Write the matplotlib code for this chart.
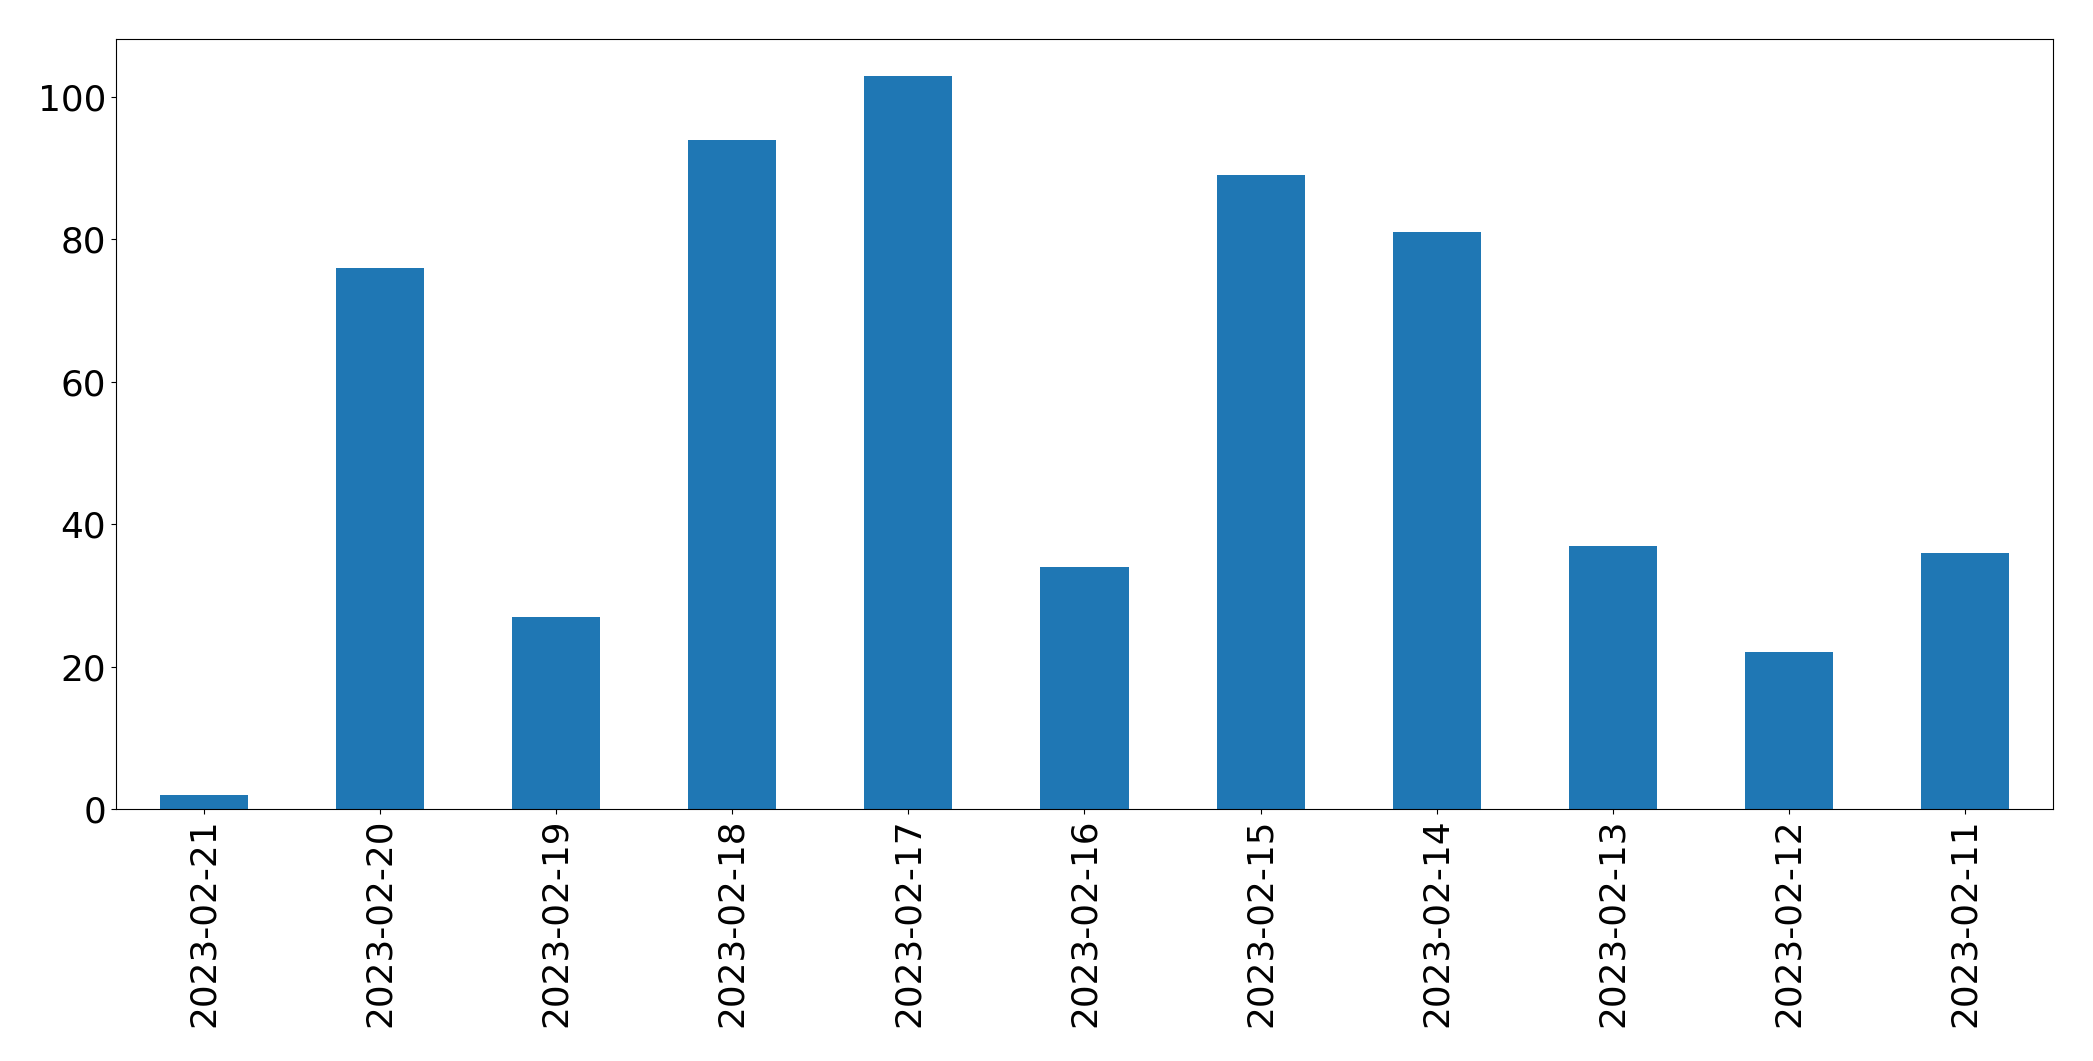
import matplotlib
matplotlib.use("Agg")
from matplotlib import pyplot as plt

# daily counts, newest first (as in the reference)
dates = ["2023-02-21", "2023-02-20", "2023-02-19", "2023-02-18", "2023-02-17",
         "2023-02-16", "2023-02-15", "2023-02-14", "2023-02-13", "2023-02-12",
         "2023-02-11"]
counts = [2, 76, 27, 94, 103, 34, 89, 81, 37, 22, 36]

fig = plt.figure(figsize=(20.93, 10.61), dpi=100)
ax = fig.add_axes([0.0554, 0.2375, 0.9255, 0.7257])

x = list(range(len(dates)))
ax.bar(x, counts, width=0.5, color="#1f77b4")

ax.set_xlim(-0.5, len(dates) - 0.5)
ax.set_xticks(x)
ax.set_xticklabels(dates, rotation=90)
ax.tick_params(axis="both", labelsize=25.8)

fig.savefig("out.png", dpi=100)
